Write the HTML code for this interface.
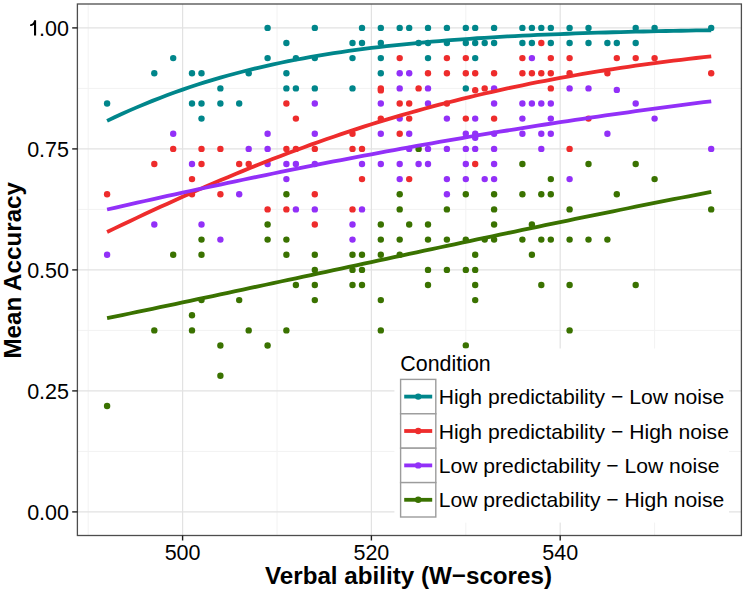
<!DOCTYPE html>
<html><head><meta charset="utf-8"><style>
html,body{margin:0;padding:0;background:#fff;}
body{width:746px;height:593px;overflow:hidden;}
svg{display:block;font-family:"Liberation Sans",sans-serif;}
</style></head><body>
<svg width="746" height="593" viewBox="0 0 746 593">
<rect x="77.4" y="4.0" width="664.0" height="531.5" fill="#fff"/>
<g stroke="#F2F2F2" stroke-width="1"><line x1="88.2" y1="4.0" x2="88.2" y2="535.5"/><line x1="277.0" y1="4.0" x2="277.0" y2="535.5"/><line x1="465.8" y1="4.0" x2="465.8" y2="535.5"/><line x1="654.6" y1="4.0" x2="654.6" y2="535.5"/><line x1="77.4" y1="451.4" x2="741.4" y2="451.4"/><line x1="77.4" y1="330.4" x2="741.4" y2="330.4"/><line x1="77.4" y1="209.4" x2="741.4" y2="209.4"/><line x1="77.4" y1="88.4" x2="741.4" y2="88.4"/></g>
<g stroke="#E2E2E2" stroke-width="1.2"><line x1="182.6" y1="4.0" x2="182.6" y2="535.5"/><line x1="371.4" y1="4.0" x2="371.4" y2="535.5"/><line x1="560.2" y1="4.0" x2="560.2" y2="535.5"/><line x1="77.4" y1="511.9" x2="741.4" y2="511.9"/><line x1="77.4" y1="390.9" x2="741.4" y2="390.9"/><line x1="77.4" y1="269.9" x2="741.4" y2="269.9"/><line x1="77.4" y1="148.9" x2="741.4" y2="148.9"/><line x1="77.4" y1="27.9" x2="741.4" y2="27.9"/></g>
<g fill="#00868B"><circle cx="107.1" cy="103.5" r="3.2"/><circle cx="154.3" cy="73.3" r="3.2"/><circle cx="173.2" cy="58.1" r="3.2"/><circle cx="192.0" cy="73.3" r="3.2"/><circle cx="192.0" cy="103.5" r="3.2"/><circle cx="201.5" cy="73.3" r="3.2"/><circle cx="201.5" cy="103.5" r="3.2"/><circle cx="201.5" cy="118.6" r="3.2"/><circle cx="220.4" cy="88.4" r="3.2"/><circle cx="220.4" cy="103.5" r="3.2"/><circle cx="239.2" cy="103.5" r="3.2"/><circle cx="248.7" cy="73.3" r="3.2"/><circle cx="267.6" cy="27.9" r="3.2"/><circle cx="267.6" cy="58.1" r="3.2"/><circle cx="286.4" cy="43.0" r="3.2"/><circle cx="286.4" cy="73.3" r="3.2"/><circle cx="286.4" cy="88.4" r="3.2"/><circle cx="295.9" cy="58.1" r="3.2"/><circle cx="295.9" cy="88.4" r="3.2"/><circle cx="314.8" cy="27.9" r="3.2"/><circle cx="314.8" cy="58.1" r="3.2"/><circle cx="314.8" cy="88.4" r="3.2"/><circle cx="352.5" cy="43.0" r="3.2"/><circle cx="352.5" cy="58.1" r="3.2"/><circle cx="352.5" cy="88.4" r="3.2"/><circle cx="362.0" cy="27.9" r="3.2"/><circle cx="362.0" cy="43.0" r="3.2"/><circle cx="380.8" cy="27.9" r="3.2"/><circle cx="380.8" cy="43.0" r="3.2"/><circle cx="380.8" cy="58.1" r="3.2"/><circle cx="380.8" cy="73.3" r="3.2"/><circle cx="399.7" cy="27.9" r="3.2"/><circle cx="409.2" cy="27.9" r="3.2"/><circle cx="418.6" cy="43.0" r="3.2"/><circle cx="428.0" cy="27.9" r="3.2"/><circle cx="428.0" cy="43.0" r="3.2"/><circle cx="428.0" cy="58.1" r="3.2"/><circle cx="446.9" cy="27.9" r="3.2"/><circle cx="446.9" cy="43.0" r="3.2"/><circle cx="465.8" cy="27.9" r="3.2"/><circle cx="465.8" cy="43.0" r="3.2"/><circle cx="465.8" cy="88.4" r="3.2"/><circle cx="475.2" cy="27.9" r="3.2"/><circle cx="475.2" cy="43.0" r="3.2"/><circle cx="475.2" cy="58.1" r="3.2"/><circle cx="484.7" cy="43.0" r="3.2"/><circle cx="494.1" cy="27.9" r="3.2"/><circle cx="494.1" cy="43.0" r="3.2"/><circle cx="522.4" cy="27.9" r="3.2"/><circle cx="522.4" cy="43.0" r="3.2"/><circle cx="531.9" cy="27.9" r="3.2"/><circle cx="531.9" cy="43.0" r="3.2"/><circle cx="541.3" cy="27.9" r="3.2"/><circle cx="550.8" cy="27.9" r="3.2"/><circle cx="550.8" cy="43.0" r="3.2"/><circle cx="569.6" cy="27.9" r="3.2"/><circle cx="569.6" cy="43.0" r="3.2"/><circle cx="588.5" cy="27.9" r="3.2"/><circle cx="588.5" cy="43.0" r="3.2"/><circle cx="607.4" cy="43.0" r="3.2"/><circle cx="616.8" cy="43.0" r="3.2"/><circle cx="635.7" cy="27.9" r="3.2"/><circle cx="635.7" cy="43.0" r="3.2"/><circle cx="654.6" cy="27.9" r="3.2"/><circle cx="711.2" cy="27.9" r="3.2"/></g>
<g fill="#EE2C2C"><circle cx="107.1" cy="194.3" r="3.2"/><circle cx="154.3" cy="164.0" r="3.2"/><circle cx="173.2" cy="148.9" r="3.2"/><circle cx="192.0" cy="179.1" r="3.2"/><circle cx="192.0" cy="194.3" r="3.2"/><circle cx="201.5" cy="148.9" r="3.2"/><circle cx="201.5" cy="164.0" r="3.2"/><circle cx="220.4" cy="148.9" r="3.2"/><circle cx="220.4" cy="194.3" r="3.2"/><circle cx="239.2" cy="164.0" r="3.2"/><circle cx="248.7" cy="164.0" r="3.2"/><circle cx="267.6" cy="209.4" r="3.2"/><circle cx="286.4" cy="103.5" r="3.2"/><circle cx="286.4" cy="148.9" r="3.2"/><circle cx="286.4" cy="209.4" r="3.2"/><circle cx="295.9" cy="118.6" r="3.2"/><circle cx="295.9" cy="148.9" r="3.2"/><circle cx="314.8" cy="148.9" r="3.2"/><circle cx="314.8" cy="194.3" r="3.2"/><circle cx="314.8" cy="224.5" r="3.2"/><circle cx="352.5" cy="133.8" r="3.2"/><circle cx="352.5" cy="148.9" r="3.2"/><circle cx="352.5" cy="209.4" r="3.2"/><circle cx="362.0" cy="148.9" r="3.2"/><circle cx="362.0" cy="179.1" r="3.2"/><circle cx="380.8" cy="88.4" r="3.2"/><circle cx="380.8" cy="90.4" r="3.2"/><circle cx="380.8" cy="118.6" r="3.2"/><circle cx="399.7" cy="58.1" r="3.2"/><circle cx="399.7" cy="103.5" r="3.2"/><circle cx="399.7" cy="133.8" r="3.2"/><circle cx="409.2" cy="103.5" r="3.2"/><circle cx="409.2" cy="118.6" r="3.2"/><circle cx="409.2" cy="179.1" r="3.2"/><circle cx="418.6" cy="88.4" r="3.2"/><circle cx="428.0" cy="73.3" r="3.2"/><circle cx="446.9" cy="58.1" r="3.2"/><circle cx="446.9" cy="73.3" r="3.2"/><circle cx="446.9" cy="103.5" r="3.2"/><circle cx="465.8" cy="58.1" r="3.2"/><circle cx="465.8" cy="73.3" r="3.2"/><circle cx="465.8" cy="118.6" r="3.2"/><circle cx="475.2" cy="90.2" r="3.2"/><circle cx="475.2" cy="73.3" r="3.2"/><circle cx="475.2" cy="164.0" r="3.2"/><circle cx="484.7" cy="88.4" r="3.2"/><circle cx="494.1" cy="73.3" r="3.2"/><circle cx="494.1" cy="118.6" r="3.2"/><circle cx="522.4" cy="58.1" r="3.2"/><circle cx="522.4" cy="73.3" r="3.2"/><circle cx="531.9" cy="73.3" r="3.2"/><circle cx="541.3" cy="43.0" r="3.2"/><circle cx="541.3" cy="73.3" r="3.2"/><circle cx="550.8" cy="58.1" r="3.2"/><circle cx="550.8" cy="73.3" r="3.2"/><circle cx="550.8" cy="88.4" r="3.2"/><circle cx="569.6" cy="58.1" r="3.2"/><circle cx="569.6" cy="73.3" r="3.2"/><circle cx="569.6" cy="148.9" r="3.2"/><circle cx="588.5" cy="118.6" r="3.2"/><circle cx="607.4" cy="73.3" r="3.2"/><circle cx="616.8" cy="58.1" r="3.2"/><circle cx="635.7" cy="58.1" r="3.2"/><circle cx="654.6" cy="58.1" r="3.2"/><circle cx="711.2" cy="73.3" r="3.2"/></g>
<g fill="#9230F8"><circle cx="107.1" cy="254.8" r="3.2"/><circle cx="154.3" cy="224.5" r="3.2"/><circle cx="173.2" cy="133.8" r="3.2"/><circle cx="192.0" cy="164.0" r="3.2"/><circle cx="201.5" cy="224.5" r="3.2"/><circle cx="220.4" cy="239.6" r="3.2"/><circle cx="239.2" cy="194.3" r="3.2"/><circle cx="248.7" cy="148.9" r="3.2"/><circle cx="267.6" cy="133.8" r="3.2"/><circle cx="267.6" cy="148.9" r="3.2"/><circle cx="267.6" cy="164.0" r="3.2"/><circle cx="286.4" cy="164.0" r="3.2"/><circle cx="286.4" cy="179.1" r="3.2"/><circle cx="295.9" cy="164.0" r="3.2"/><circle cx="295.9" cy="209.4" r="3.2"/><circle cx="314.8" cy="103.5" r="3.2"/><circle cx="314.8" cy="133.8" r="3.2"/><circle cx="314.8" cy="164.0" r="3.2"/><circle cx="314.8" cy="209.4" r="3.2"/><circle cx="352.5" cy="224.5" r="3.2"/><circle cx="352.5" cy="239.6" r="3.2"/><circle cx="362.0" cy="164.0" r="3.2"/><circle cx="362.0" cy="209.4" r="3.2"/><circle cx="380.8" cy="103.5" r="3.2"/><circle cx="380.8" cy="133.8" r="3.2"/><circle cx="380.8" cy="164.0" r="3.2"/><circle cx="399.7" cy="73.3" r="3.2"/><circle cx="399.7" cy="88.4" r="3.2"/><circle cx="399.7" cy="118.6" r="3.2"/><circle cx="399.7" cy="164.0" r="3.2"/><circle cx="399.7" cy="179.1" r="3.2"/><circle cx="409.2" cy="73.3" r="3.2"/><circle cx="409.2" cy="133.8" r="3.2"/><circle cx="409.2" cy="148.9" r="3.2"/><circle cx="418.6" cy="164.0" r="3.2"/><circle cx="428.0" cy="88.4" r="3.2"/><circle cx="428.0" cy="103.5" r="3.2"/><circle cx="428.0" cy="148.9" r="3.2"/><circle cx="428.0" cy="164.0" r="3.2"/><circle cx="446.9" cy="118.6" r="3.2"/><circle cx="446.9" cy="148.9" r="3.2"/><circle cx="446.9" cy="179.1" r="3.2"/><circle cx="446.9" cy="194.3" r="3.2"/><circle cx="465.8" cy="133.8" r="3.2"/><circle cx="465.8" cy="148.9" r="3.2"/><circle cx="465.8" cy="164.0" r="3.2"/><circle cx="465.8" cy="179.1" r="3.2"/><circle cx="475.2" cy="118.6" r="3.2"/><circle cx="475.2" cy="133.8" r="3.2"/><circle cx="475.2" cy="137.7" r="3.2"/><circle cx="475.2" cy="148.9" r="3.2"/><circle cx="484.7" cy="179.1" r="3.2"/><circle cx="494.1" cy="88.4" r="3.2"/><circle cx="494.1" cy="103.5" r="3.2"/><circle cx="494.1" cy="133.8" r="3.2"/><circle cx="494.1" cy="148.9" r="3.2"/><circle cx="494.1" cy="164.0" r="3.2"/><circle cx="494.1" cy="179.1" r="3.2"/><circle cx="522.4" cy="103.5" r="3.2"/><circle cx="522.4" cy="118.6" r="3.2"/><circle cx="522.4" cy="133.8" r="3.2"/><circle cx="531.9" cy="58.1" r="3.2"/><circle cx="531.9" cy="103.5" r="3.2"/><circle cx="541.3" cy="103.5" r="3.2"/><circle cx="541.3" cy="133.8" r="3.2"/><circle cx="541.3" cy="148.9" r="3.2"/><circle cx="550.8" cy="103.5" r="3.2"/><circle cx="550.8" cy="118.6" r="3.2"/><circle cx="550.8" cy="133.8" r="3.2"/><circle cx="569.6" cy="88.4" r="3.2"/><circle cx="569.6" cy="179.1" r="3.2"/><circle cx="588.5" cy="88.4" r="3.2"/><circle cx="607.4" cy="133.8" r="3.2"/><circle cx="616.8" cy="89.9" r="3.2"/><circle cx="635.7" cy="103.5" r="3.2"/><circle cx="654.6" cy="118.6" r="3.2"/><circle cx="711.2" cy="148.9" r="3.2"/></g>
<g fill="#3A7200"><circle cx="107.1" cy="406.0" r="3.2"/><circle cx="154.3" cy="330.4" r="3.2"/><circle cx="173.2" cy="254.8" r="3.2"/><circle cx="192.0" cy="315.3" r="3.2"/><circle cx="192.0" cy="330.4" r="3.2"/><circle cx="201.5" cy="239.6" r="3.2"/><circle cx="201.5" cy="254.8" r="3.2"/><circle cx="201.5" cy="300.1" r="3.2"/><circle cx="220.4" cy="345.5" r="3.2"/><circle cx="220.4" cy="375.8" r="3.2"/><circle cx="239.2" cy="300.1" r="3.2"/><circle cx="248.7" cy="330.4" r="3.2"/><circle cx="267.6" cy="224.5" r="3.2"/><circle cx="267.6" cy="239.6" r="3.2"/><circle cx="267.6" cy="345.5" r="3.2"/><circle cx="286.4" cy="194.3" r="3.2"/><circle cx="286.4" cy="239.6" r="3.2"/><circle cx="286.4" cy="254.8" r="3.2"/><circle cx="286.4" cy="330.4" r="3.2"/><circle cx="295.9" cy="285.0" r="3.2"/><circle cx="314.8" cy="254.8" r="3.2"/><circle cx="314.8" cy="269.9" r="3.2"/><circle cx="314.8" cy="285.0" r="3.2"/><circle cx="314.8" cy="300.1" r="3.2"/><circle cx="352.5" cy="254.8" r="3.2"/><circle cx="352.5" cy="269.9" r="3.2"/><circle cx="352.5" cy="285.0" r="3.2"/><circle cx="362.0" cy="254.8" r="3.2"/><circle cx="362.0" cy="269.9" r="3.2"/><circle cx="362.0" cy="285.0" r="3.2"/><circle cx="380.8" cy="224.5" r="3.2"/><circle cx="380.8" cy="239.6" r="3.2"/><circle cx="380.8" cy="254.8" r="3.2"/><circle cx="380.8" cy="300.1" r="3.2"/><circle cx="380.8" cy="330.4" r="3.2"/><circle cx="399.7" cy="194.3" r="3.2"/><circle cx="399.7" cy="209.4" r="3.2"/><circle cx="399.7" cy="239.6" r="3.2"/><circle cx="399.7" cy="254.8" r="3.2"/><circle cx="409.2" cy="224.5" r="3.2"/><circle cx="418.6" cy="148.9" r="3.2"/><circle cx="428.0" cy="224.5" r="3.2"/><circle cx="428.0" cy="239.6" r="3.2"/><circle cx="428.0" cy="269.9" r="3.2"/><circle cx="428.0" cy="285.0" r="3.2"/><circle cx="446.9" cy="209.4" r="3.2"/><circle cx="446.9" cy="239.6" r="3.2"/><circle cx="446.9" cy="269.9" r="3.2"/><circle cx="465.8" cy="194.3" r="3.2"/><circle cx="465.8" cy="239.6" r="3.2"/><circle cx="465.8" cy="269.9" r="3.2"/><circle cx="465.8" cy="345.5" r="3.2"/><circle cx="475.2" cy="254.8" r="3.2"/><circle cx="475.2" cy="269.9" r="3.2"/><circle cx="475.2" cy="285.0" r="3.2"/><circle cx="475.2" cy="300.1" r="3.2"/><circle cx="484.7" cy="239.6" r="3.2"/><circle cx="494.1" cy="194.3" r="3.2"/><circle cx="494.1" cy="209.4" r="3.2"/><circle cx="494.1" cy="224.5" r="3.2"/><circle cx="494.1" cy="239.6" r="3.2"/><circle cx="522.4" cy="164.0" r="3.2"/><circle cx="522.4" cy="194.3" r="3.2"/><circle cx="522.4" cy="239.6" r="3.2"/><circle cx="531.9" cy="224.5" r="3.2"/><circle cx="531.9" cy="254.8" r="3.2"/><circle cx="541.3" cy="194.3" r="3.2"/><circle cx="541.3" cy="239.6" r="3.2"/><circle cx="541.3" cy="285.0" r="3.2"/><circle cx="550.8" cy="179.1" r="3.2"/><circle cx="550.8" cy="194.3" r="3.2"/><circle cx="550.8" cy="239.6" r="3.2"/><circle cx="569.6" cy="209.4" r="3.2"/><circle cx="569.6" cy="239.6" r="3.2"/><circle cx="569.6" cy="285.0" r="3.2"/><circle cx="569.6" cy="330.4" r="3.2"/><circle cx="588.5" cy="164.0" r="3.2"/><circle cx="588.5" cy="239.6" r="3.2"/><circle cx="607.4" cy="239.6" r="3.2"/><circle cx="616.8" cy="194.3" r="3.2"/><circle cx="635.7" cy="164.0" r="3.2"/><circle cx="635.7" cy="285.0" r="3.2"/><circle cx="654.6" cy="179.1" r="3.2"/><circle cx="711.2" cy="209.4" r="3.2"/></g>
<polyline fill="none" stroke="#00868B" stroke-width="3.8" stroke-linejoin="round" points="107.08,120.87 114.63,117.27 122.18,113.78 129.74,110.39 137.29,107.12 144.84,103.94 152.39,100.88 159.94,97.91 167.50,95.05 175.05,92.28 182.60,89.61 190.15,87.04 197.70,84.56 205.26,82.17 212.81,79.87 220.36,77.65 227.91,75.52 235.46,73.47 243.02,71.50 250.57,69.61 258.12,67.79 265.67,66.04 273.22,64.37 280.78,62.76 288.33,61.22 295.88,59.74 303.43,58.32 310.98,56.96 318.54,55.66 326.09,54.42 333.64,53.22 341.19,52.08 348.74,50.99 356.30,49.94 363.85,48.94 371.40,47.98 378.95,47.06 386.50,46.19 394.06,45.35 401.61,44.55 409.16,43.78 416.71,43.05 424.26,42.35 431.82,41.69 439.37,41.05 446.92,40.44 454.47,39.86 462.02,39.31 469.58,38.78 477.13,38.27 484.68,37.79 492.23,37.33 499.78,36.89 507.34,36.47 514.89,36.07 522.44,35.69 529.99,35.32 537.54,34.97 545.10,34.64 552.65,34.33 560.20,34.03 567.75,33.74 575.30,33.46 582.86,33.20 590.41,32.95 597.96,32.72 605.51,32.49 613.06,32.27 620.62,32.07 628.17,31.87 635.72,31.68 643.27,31.51 650.82,31.34 658.38,31.17 665.93,31.02 673.48,30.87 681.03,30.73 688.58,30.60 696.14,30.47 703.69,30.35 711.24,30.23"/>
<polyline fill="none" stroke="#EE2C2C" stroke-width="3.8" stroke-linejoin="round" points="107.08,231.98 114.63,228.36 122.18,224.76 129.74,221.18 137.29,217.62 144.84,214.09 152.39,210.58 159.94,207.10 167.50,203.65 175.05,200.22 182.60,196.82 190.15,193.46 197.70,190.13 205.26,186.83 212.81,183.57 220.36,180.34 227.91,177.15 235.46,173.99 243.02,170.88 250.57,167.80 258.12,164.76 265.67,161.77 273.22,158.81 280.78,155.90 288.33,153.02 295.88,150.19 303.43,147.41 310.98,144.66 318.54,141.96 326.09,139.30 333.64,136.69 341.19,134.12 348.74,131.59 356.30,129.11 363.85,126.67 371.40,124.28 378.95,121.93 386.50,119.62 394.06,117.36 401.61,115.14 409.16,112.96 416.71,110.83 424.26,108.74 431.82,106.69 439.37,104.68 446.92,102.72 454.47,100.79 462.02,98.91 469.58,97.07 477.13,95.27 484.68,93.50 492.23,91.78 499.78,90.09 507.34,88.45 514.89,86.84 522.44,85.27 529.99,83.73 537.54,82.23 545.10,80.76 552.65,79.33 560.20,77.94 567.75,76.58 575.30,75.25 582.86,73.95 590.41,72.69 597.96,71.45 605.51,70.25 613.06,69.08 620.62,67.93 628.17,66.82 635.72,65.73 643.27,64.67 650.82,63.64 658.38,62.64 665.93,61.66 673.48,60.71 681.03,59.78 688.58,58.88 696.14,58.00 703.69,57.14 711.24,56.31"/>
<polyline fill="none" stroke="#9230F8" stroke-width="3.8" stroke-linejoin="round" points="107.08,209.49 114.63,207.78 122.18,206.07 129.74,204.37 137.29,202.67 144.84,200.98 152.39,199.30 159.94,197.63 167.50,195.96 175.05,194.30 182.60,192.65 190.15,191.01 197.70,189.38 205.26,187.75 212.81,186.13 220.36,184.52 227.91,182.92 235.46,181.33 243.02,179.75 250.57,178.17 258.12,176.61 265.67,175.05 273.22,173.50 280.78,171.96 288.33,170.44 295.88,168.92 303.43,167.41 310.98,165.91 318.54,164.42 326.09,162.94 333.64,161.47 341.19,160.01 348.74,158.56 356.30,157.12 363.85,155.69 371.40,154.27 378.95,152.86 386.50,151.46 394.06,150.07 401.61,148.69 409.16,147.32 416.71,145.96 424.26,144.62 431.82,143.28 439.37,141.95 446.92,140.64 454.47,139.33 462.02,138.04 469.58,136.75 477.13,135.48 484.68,134.22 492.23,132.97 499.78,131.73 507.34,130.50 514.89,129.28 522.44,128.07 529.99,126.87 537.54,125.68 545.10,124.50 552.65,123.34 560.20,122.18 567.75,121.04 575.30,119.90 582.86,118.78 590.41,117.67 597.96,116.56 605.51,115.47 613.06,114.39 620.62,113.32 628.17,112.26 635.72,111.21 643.27,110.17 650.82,109.14 658.38,108.12 665.93,107.11 673.48,106.11 681.03,105.12 688.58,104.15 696.14,103.18 703.69,102.22 711.24,101.27"/>
<polyline fill="none" stroke="#3A7200" stroke-width="3.8" stroke-linejoin="round" points="107.08,318.20 114.63,316.64 122.18,315.07 129.74,313.51 137.29,311.93 144.84,310.36 152.39,308.78 159.94,307.19 167.50,305.61 175.05,304.02 182.60,302.43 190.15,300.83 197.70,299.23 205.26,297.63 212.81,296.03 220.36,294.42 227.91,292.81 235.46,291.20 243.02,289.59 250.57,287.98 258.12,286.36 265.67,284.75 273.22,283.13 280.78,281.51 288.33,279.89 295.88,278.27 303.43,276.65 310.98,275.03 318.54,273.40 326.09,271.78 333.64,270.16 341.19,268.53 348.74,266.91 356.30,265.29 363.85,263.66 371.40,262.04 378.95,260.42 386.50,258.80 394.06,257.18 401.61,255.56 409.16,253.95 416.71,252.33 424.26,250.72 431.82,249.10 439.37,247.49 446.92,245.89 454.47,244.28 462.02,242.68 469.58,241.07 477.13,239.47 484.68,237.88 492.23,236.29 499.78,234.69 507.34,233.11 514.89,231.52 522.44,229.94 529.99,228.36 537.54,226.79 545.10,225.22 552.65,223.66 560.20,222.09 567.75,220.54 575.30,218.98 582.86,217.43 590.41,215.89 597.96,214.35 605.51,212.81 613.06,211.28 620.62,209.76 628.17,208.24 635.72,206.72 643.27,205.21 650.82,203.71 658.38,202.21 665.93,200.71 673.48,199.23 681.03,197.74 688.58,196.27 696.14,194.80 703.69,193.33 711.24,191.88"/>
<rect x="77.4" y="4.0" width="664.0" height="531.5" fill="none" stroke="#4D4D4D" stroke-width="1.3"/>
<g stroke="#1E1E1E" stroke-width="1.4"><line x1="72.2" y1="511.9" x2="77.4" y2="511.9"/><line x1="72.2" y1="390.9" x2="77.4" y2="390.9"/><line x1="72.2" y1="269.9" x2="77.4" y2="269.9"/><line x1="72.2" y1="148.9" x2="77.4" y2="148.9"/><line x1="72.2" y1="27.9" x2="77.4" y2="27.9"/><line x1="182.6" y1="535.5" x2="182.6" y2="540.5"/><line x1="371.4" y1="535.5" x2="371.4" y2="540.5"/><line x1="560.2" y1="535.5" x2="560.2" y2="540.5"/></g>
<g font-size="21.5" fill="#000"><text x="69" y="519.7" text-anchor="end">0.00</text><text x="69" y="398.7" text-anchor="end">0.25</text><text x="69" y="277.7" text-anchor="end">0.50</text><text x="69" y="156.7" text-anchor="end">0.75</text><text x="69" y="35.7" text-anchor="end">.00</text><path d="M36.1 35.4L34.0 35.4L34.0 24.7C33.0 25.6 31.6 26.1 30.1 26.1L30.1 24.4C32.2 24.2 33.6 22.9 34.2 20.3L36.1 20.3Z"/><text x="182.6" y="559.6" text-anchor="middle">500</text><text x="371.4" y="559.6" text-anchor="middle">520</text><text x="560.2" y="559.6" text-anchor="middle">540</text></g>
<text x="408.5" y="583.9" text-anchor="middle" font-size="24.2" font-weight="bold">Verbal ability (W−scores)</text>
<text transform="translate(21.3,270.3) rotate(-90)" text-anchor="middle" font-size="24.2" font-weight="bold">Mean Accuracy</text>
<rect x="394.4" y="348.5" width="334.6" height="174.10000000000002" fill="#fff"/>
<text x="400.3" y="370.6" font-size="21.4">Condition</text>
<rect x="400.6" y="379.4" width="35.2" height="34.4" fill="#fff" stroke="#9C9C9C" stroke-width="1.4"/>
<line x1="404.2" y1="396.6" x2="432.2" y2="396.6" stroke="#00868B" stroke-width="3.8"/>
<circle cx="418.2" cy="396.6" r="3.2" fill="#00868B"/>
<text x="438.7" y="404.2" font-size="21.1">High predictability − Low noise</text>
<rect x="400.6" y="413.8" width="35.2" height="34.4" fill="#fff" stroke="#9C9C9C" stroke-width="1.4"/>
<line x1="404.2" y1="431.0" x2="432.2" y2="431.0" stroke="#EE2C2C" stroke-width="3.8"/>
<circle cx="418.2" cy="431.0" r="3.2" fill="#EE2C2C"/>
<text x="438.7" y="438.6" font-size="21.1">High predictability − High noise</text>
<rect x="400.6" y="448.2" width="35.2" height="34.4" fill="#fff" stroke="#9C9C9C" stroke-width="1.4"/>
<line x1="404.2" y1="465.4" x2="432.2" y2="465.4" stroke="#9230F8" stroke-width="3.8"/>
<circle cx="418.2" cy="465.4" r="3.2" fill="#9230F8"/>
<text x="438.7" y="473.0" font-size="21.1">Low predictability − Low noise</text>
<rect x="400.6" y="482.6" width="35.2" height="34.4" fill="#fff" stroke="#9C9C9C" stroke-width="1.4"/>
<line x1="404.2" y1="499.8" x2="432.2" y2="499.8" stroke="#3A7200" stroke-width="3.8"/>
<circle cx="418.2" cy="499.8" r="3.2" fill="#3A7200"/>
<text x="438.7" y="507.4" font-size="21.1">Low predictability − High noise</text>
</svg>
</body></html>
